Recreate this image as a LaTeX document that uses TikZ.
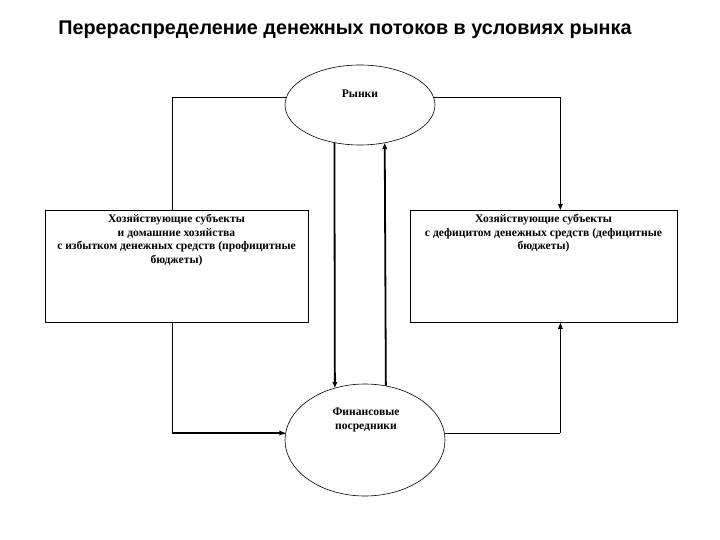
\documentclass[tikz,border=0pt]{standalone}
\usepackage{fontspec}
\setmainfont{Liberation Serif}
\newfontfamily\titlefont{Liberation Sans}
\usetikzlibrary{shapes.geometric,arrows.meta}
\tikzset{
  box/.style={draw, line width=0.8pt, rectangle, anchor=north west, inner sep=0pt},
  oval/.style={draw, line width=0.6pt, ellipse, inner sep=0pt},
  txt/.style={font=\bfseries\fontsize{11.6}{13.5}\selectfont, align=center, inner sep=0pt},
  thin line/.style={line width=0.8pt},
  thick line/.style={line width=1.8pt},
  tip/.style={-{Triangle[length=6pt,width=4.5pt]}}
}
\begin{document}
\begin{tikzpicture}[x=1pt,y=-1pt]
\useasboundingbox (0,0) rectangle (720,540);
% title
\node[font=\titlefont\bfseries\fontsize{19.8}{24}\selectfont, inner sep=0pt] (title) at (345,30) {Перераспределение денежных потоков в условиях рынка};
% shapes
\node[oval, minimum width=150pt, minimum height=80pt] (mk) at (360,105) {};
\node[txt] (mkt) at (360,94) {Рынки};
\node[box, minimum width=263pt, minimum height=112pt] (lb) at (45,210) {};
\node[txt, anchor=north] (lbt) at (176.5,214) {Хозяйствующие субъекты\\и домашние хозяйства\\с избытком денежных средств (профицитные\\бюджеты)};
\node[box, minimum width=267pt, minimum height=112pt] (rb) at (410,210) {};
\node[txt, anchor=north] (rbt) at (543.5,214) {Хозяйствующие субъекты\\с дефицитом денежных средств (дефицитные\\бюджеты)};
\node[oval, minimum width=160pt, minimum height=112pt] (fp) at (365,440) {};
\node[txt] (fpt) at (366,420) {Финансовые\\посредники};
% connectors
\draw[thin line] (mk.174) -| ([xshift=-4.5pt]lb.north);
\draw[thin line, tip] (mk.6) -| ([xshift=16.5pt]rb.north);
\draw[thin line] ([xshift=-4.5pt]lb.south) |- (fp.175);
\draw[thick line, tip] ([xshift=-4.5pt]lb.south |- fp.175) -- (fp.175);
\draw[thin line, tip] ([xshift=16.5pt]rb.south |- fp.5) -- ([xshift=16.5pt]rb.south);
\draw[thin line] (fp.5) -- ([xshift=16.5pt]rb.south |- fp.5);
\draw[thick line, tip] (mk.236.4) -- (fp.120);
\draw[thick line, tip] (fp.69.7) -- (mk.303.6);
\end{tikzpicture}
\end{document}
